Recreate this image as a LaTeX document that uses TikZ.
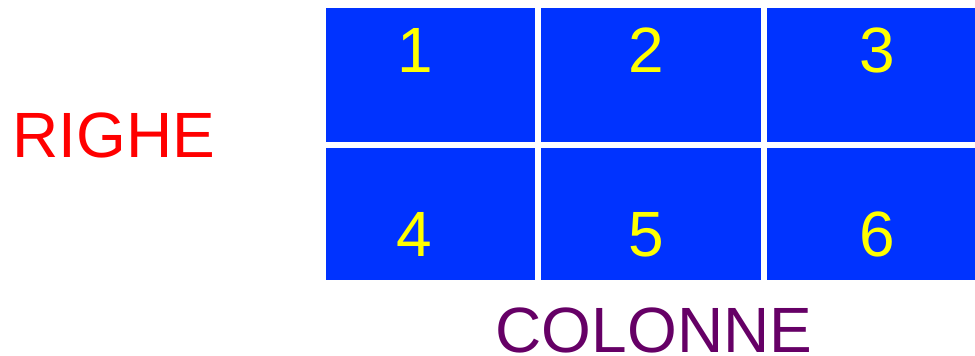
\documentclass[tikz,border=0pt]{standalone}
\usepackage{fontspec}
\setmainfont{Liberation Sans}
\definecolor{cellblue}{RGB}{0,51,255}
\definecolor{numyellow}{RGB}{255,255,0}
\definecolor{rowred}{RGB}{255,0,0}
\definecolor{colpurple}{RGB}{102,0,102}
\begin{document}
\begin{tikzpicture}[x=1pt,y=-1pt,
  cell/.style={fill=cellblue,draw=none},
  num/.style={text=numyellow,font=\fontsize{64}{64}\selectfont,inner sep=0pt,anchor=base},
  lab/.style={font=\fontsize{64}{64}\selectfont,inner sep=0pt,text depth=0pt,anchor=base}]
\useasboundingbox[fill=white] (0,0) rectangle (975,356);
% cells
\fill[cell] (326,8) rectangle (535,142);
\fill[cell] (541,8) rectangle (761,142);
\fill[cell] (767,8) rectangle (975,142);
\fill[cell] (326,148) rectangle (535,280);
\fill[cell] (541,148) rectangle (761,280);
\fill[cell] (767,148) rectangle (975,280);
% numbers
\node[num] (n1) at (415,72) {1};
\node[num] (n2) at (646,72) {2};
\node[num] (n3) at (877,72) {3};
\node[num] (n4) at (414,256) {4};
\node[num] (n5) at (646,256) {5};
\node[num] (n6) at (877,256) {6};
% labels
\node[lab,text=rowred] (righe) at (114,157) {RIGHE};
\node[lab,text=colpurple] (colonne) at (654,352) {COLONNE};
\end{tikzpicture}
\end{document}
